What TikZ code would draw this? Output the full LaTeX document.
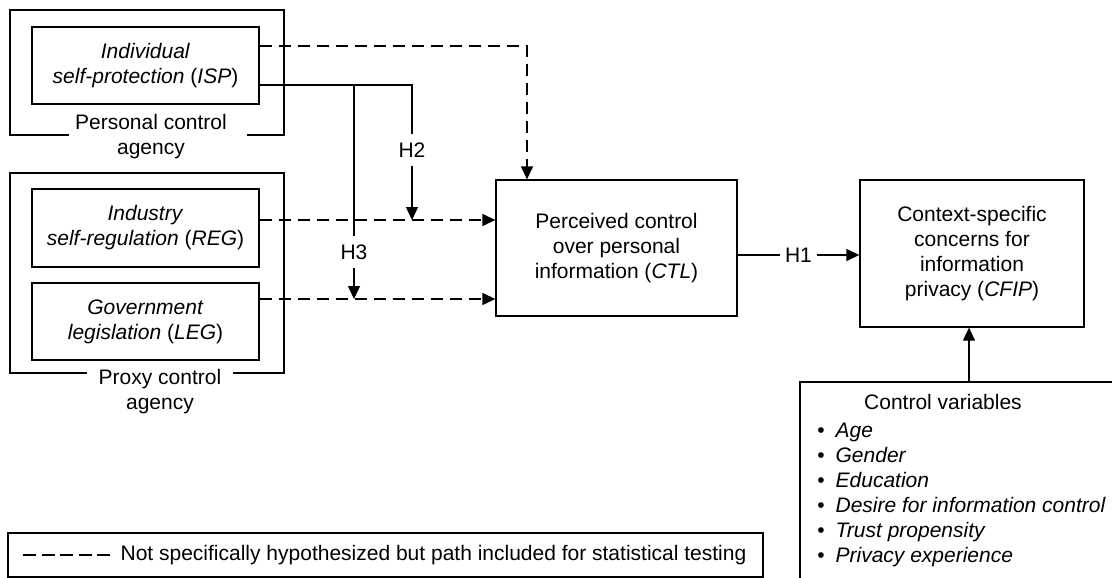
\documentclass[tikz,border=0pt]{standalone}
\usepackage{fontspec}
\setmainfont{Liberation Sans}
\usetikzlibrary{arrows.meta}
\begin{document}
\begin{tikzpicture}[x=1pt,y=-1pt,
  line width=1.3pt,
  every node/.style={font=\fontsize{21}{25}\selectfont},
  box/.style={draw, rectangle, inner sep=0pt, align=center},
  dashline/.style={dash pattern=on 12pt off 7pt},
  tip/.style={-{Triangle[length=13pt,width=12pt]}},
  lbl/.style={fill=white, inner xsep=5pt, inner ysep=9pt}
]
\useasboundingbox (0,0) rectangle (1112,578);

% group boxes
\draw (69,135) -- (10,135) -- (10,10) -- (284,10) -- (284,135) -- (247,135);
\node[align=center] (perslbl) at (151,137) {Personal control\\agency};
\draw (87,373) -- (10,373) -- (10,173) -- (284,173) -- (284,373) -- (233,373);
\node[align=center] (proxlbl) at (160,392) {Proxy control\\agency};

% construct boxes
\node[box, minimum width=227pt, minimum height=77pt] (isp) at (145.5,65.5)
  {\textit{Individual}\\\textit{self-protection} (\textit{ISP})};
\node[box, minimum width=227pt, minimum height=78pt] (reg) at (145.5,228)
  {\textit{Industry}\\\textit{self-regulation} (\textit{REG})};
\node[box, minimum width=227pt, minimum height=77pt] (leg) at (145.5,321.5)
  {\textit{Government}\\\textit{legislation} (\textit{LEG})};
\node[box, minimum width=241pt, minimum height=136pt] (ctl) at (616.5,248)
  {Perceived control\\over personal\\information (\textit{CTL})};
\node[box, minimum width=224pt, minimum height=147pt] (cfip) at (972,253.5)
  {Context-specific\\concerns for\\information\\privacy (\textit{CFIP})};

% connectors
\draw[dashline, tip] (isp.east |- 0,46) -| (ctl.north -| 527,0);
\draw[dashline, tip] (reg.east |- 0,220) -- (ctl.west |- 0,220);
\draw[dashline, tip] (leg.east |- 0,299) -- (ctl.west |- 0,299);
\coordinate (h2end) at (412,220);
\coordinate (h3start) at (354,85);
\coordinate (h3end) at (354,299);
\draw[tip] (isp.east |- 0,85) -| (h2end);
\draw[tip] (h3start) -- (h3end);
\node[lbl] (h2) at (412,150) {H2};
\node[lbl] (h3) at (354,252) {H3};
\draw[tip] (ctl.east |- 0,255) -- (cfip.west |- 0,255) node[midway, lbl] (h1) {H1};

% control variables
\draw (800,578) -- (800,382) -- (1112,382);
\coordinate (ctrltop) at (969,382);
\draw[tip] (ctrltop) -- (cfip.south -| ctrltop);
\node[anchor=base] (ctrltitle) at (943,409) {Control variables};
\foreach \t [count=\i] in {Age,Gender,Education,Desire for information control,Trust propensity,Privacy experience}{
  \node[anchor=base, inner sep=0pt] (b\i) at (821,437+25*\i-25) {\textbullet};
  \node[anchor=base west, inner sep=0pt] (it\i) at (835,437+25*\i-25) {\textit{\t}};
}

% legend
\node[draw, minimum width=755pt, minimum height=44pt, inner sep=0pt] (legend) at (385.5,555) {};
\draw[dash pattern=on 13pt off 5.5pt] (legend.west -| 23,0) -- (legend.west -| 110,0);
\node[anchor=west, inner sep=0pt] (legtext) at (120,555)
  {Not specifically hypothesized but path included for statistical testing};
\end{tikzpicture}
\end{document}
